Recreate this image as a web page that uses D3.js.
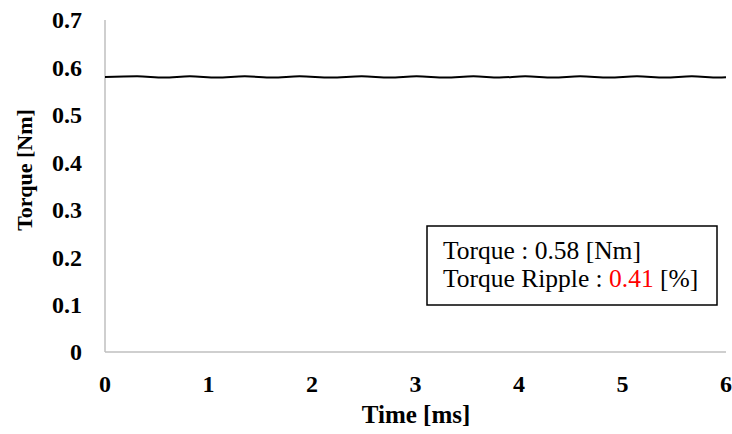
<!DOCTYPE html>
<html>
<head>
<meta charset="utf-8">
<script src="https://cdn.jsdelivr.net/npm/d3@7"></script>
<style>
  body { margin: 0; background: #fff; }
  svg { display: block; }
</style>
</head>
<body>
<svg id="chart" width="732" height="434"></svg>
<script>
// torque waveform (peaks / troughs)
var timeMs = [0, 0.31, 0.57, 0.82, 1.08, 1.35, 1.62, 1.88, 2.18, 2.48, 2.75, 3.01, 3.29,
              3.56, 3.81, 4.06, 4.33, 4.59, 4.87, 5.14, 5.41, 5.67, 5.93, 6.0];
var torqueNm = [0.5800, 0.5812, 0.5788, 0.5812, 0.5788, 0.5812, 0.5788, 0.5812, 0.5788, 0.5812, 0.5788, 0.5812, 0.5788,
                0.5812, 0.5788, 0.5812, 0.5788, 0.5812, 0.5788, 0.5812, 0.5788, 0.5812, 0.5788, 0.5792];
var xTicks = [0, 1, 2, 3, 4, 5, 6];
var yTicks = [0, 0.1, 0.2, 0.3, 0.4, 0.5, 0.6, 0.7];
var legendLines = [
  [{t: "Torque : 0.58 [Nm]", c: "#000"}],
  [{t: "Torque Ripple : ", c: "#000"}, {t: "0.41", c: "#ff0000"}, {t: " [%]", c: "#000"}]
];

var svg = d3.select("#chart");
var plotLeft = 105, plotRight = 726, plotTop = 20, plotBottom = 352;
var font = "'Liberation Serif', 'Times New Roman', serif";

var x = d3.scaleLinear().domain([0, 6]).range([plotLeft, plotRight]);
var y = d3.scaleLinear().domain([0, 0.7]).range([plotBottom, plotTop]);

// axes lines (gray)
svg.append("line").attr("x1", plotLeft).attr("x2", plotLeft).attr("y1", plotTop).attr("y2", plotBottom)
   .attr("stroke", "#bfbfbf").attr("stroke-width", 1.5);
svg.append("line").attr("x1", plotLeft).attr("x2", plotRight).attr("y1", plotBottom).attr("y2", plotBottom)
   .attr("stroke", "#bfbfbf").attr("stroke-width", 1.5);

// tick labels
svg.append("g").selectAll("text").data(yTicks).enter().append("text")
   .attr("x", 82).attr("y", function(d){ return y(d); })
   .attr("dy", "0.35em").attr("text-anchor", "end")
   .style("font-family", font).style("font-weight", "bold").style("font-size", "24px")
   .text(function(d){ return d === 0 ? "0" : d3.format(".1f")(d); });

svg.append("g").selectAll("text").data(xTicks).enter().append("text")
   .attr("x", function(d){ return x(d); }).attr("y", 392)
   .attr("text-anchor", "middle")
   .style("font-family", font).style("font-weight", "bold").style("font-size", "24px")
   .text(function(d){ return d; });

// axis titles
svg.append("text").attr("x", 416).attr("y", 423).attr("text-anchor", "middle")
   .style("font-family", font).style("font-weight", "bold").style("font-size", "25px")
   .text("Time [ms]");
svg.append("text").attr("transform", "translate(32,170) rotate(-90)").attr("text-anchor", "middle")
   .style("font-family", font).style("font-weight", "bold").style("font-size", "22px")
   .text("Torque [Nm]");

// torque line
var line = d3.line()
  .x(function(d, i){ return x(timeMs[i]); })
  .y(function(d){ return y(d); })
  .curve(d3.curveMonotoneX);
svg.append("path").datum(torqueNm).attr("d", line)
   .attr("fill", "none").attr("stroke", "#000").attr("stroke-width", 2);

// legend box
svg.append("rect").attr("x", 427).attr("y", 226).attr("width", 290).attr("height", 79)
   .attr("fill", "#fff").attr("stroke", "#000").attr("stroke-width", 1.5);
legendLines.forEach(function(parts, i){
  var t = svg.append("text").attr("x", 443).attr("y", 259 + i * 28)
    .style("font-family", font).style("font-size", "25.5px");
  parts.forEach(function(p){
    t.append("tspan").attr("fill", p.c).text(p.t);
  });
});
</script>
</body>
</html>
